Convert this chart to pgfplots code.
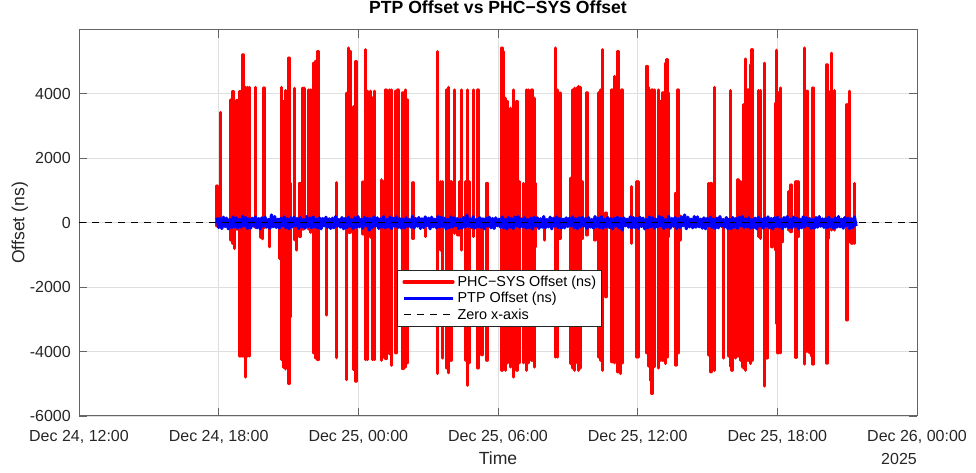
\documentclass[border=0pt]{standalone}
\usepackage{fontspec}
\setmainfont{Liberation Sans}
\usepackage{pgfplots}
\pgfplotsset{compat=1.18}
\usepackage{pgfplotstable}
\definecolor{axgray}{RGB}{38,38,38}
\definecolor{axline}{RGB}{100,100,100}
\definecolor{gridgray}{RGB}{223,223,223}

\pgfplotstableread[row sep=\\]{
y\\
160\\ -150\\ 130\\ -180\\ 170\\ -120\\ 140\\ -190\\ 100\\ -160\\ 180\\ -130\\ 150\\ -170\\ 110\\ -140\\ 190\\ -100\\ 160\\ -180\\
120\\ -170\\ 140\\ -110\\ 180\\ -160\\ 130\\ -190\\ 150\\ -120\\ 170\\ -140\\ 100\\ -180\\ 240\\ -130\\ 190\\ -150\\ 110\\ -170\\
140\\ -100\\ 180\\ -160\\ 120\\ -190\\ 150\\ -130\\ 170\\ -110\\ 130\\ -180\\ 160\\ -140\\ 100\\ -170\\ 190\\ -120\\ 140\\ -160\\
180\\ -130\\ 110\\ -170\\ 150\\ -190\\ 130\\ -100\\ 170\\ -150\\ 120\\ -180\\ 140\\ -160\\ 190\\ -110\\ 100\\ -140\\ 160\\ -190\\
130\\ -160\\ 170\\ -120\\ 100\\ -180\\ 150\\ -140\\ 190\\ -130\\ 110\\ -170\\ 160\\ -100\\ 140\\ -230\\ 120\\ -150\\ 180\\ -110\\
150\\ -180\\ 120\\ -140\\ 190\\ -160\\ 100\\ -130\\ 170\\ -190\\ 140\\ -110\\ 180\\ -150\\ 130\\ -170\\ 110\\ -160\\ 150\\ -120\\
100\\ -140\\ 190\\ -170\\ 130\\ -110\\ 160\\ -180\\ 120\\ -150\\ 180\\ -100\\ 140\\ -190\\ 170\\ -130\\ 110\\ -160\\ 190\\ -140\\
170\\ -120\\ 140\\ -190\\ 110\\ -160\\ 180\\ -130\\ 150\\ -100\\ 130\\ -180\\ 100\\ -170\\ 160\\ -140\\ 230\\ -110\\ 120\\ -150\\
190\\ -170\\ 100\\ -130\\ 160\\ -150\\ 120\\ -190\\ 140\\ -110\\ 170\\ -160\\ 130\\ -180\\ 150\\ -100\\ 110\\ -140\\ 180\\ -170\\
110\\ -190\\ 160\\ -140\\ 130\\ -180\\ 170\\ -100\\ 190\\ -150\\ 120\\ -130\\ 150\\ -170\\ 100\\ -160\\ 140\\ -190\\ 170\\ -110\\
150\\ -180\\ 120\\ -140\\ 190\\ -160\\ 100\\ -130\\ 170\\ -190\\ 140\\ -110\\ 180\\ -150\\ 130\\ -170\\ 110\\ -160\\ 150\\ -120\\
140\\ -100\\ 180\\ -160\\ 120\\ -190\\ 150\\ -130\\ 170\\ -110\\ 130\\ -180\\ 160\\ -140\\ 100\\ -170\\ 190\\ -120\\ 140\\ -160\\
190\\ -170\\ 100\\ -130\\ 160\\ -150\\ 120\\ -190\\ 140\\ -110\\ 170\\ -160\\ 130\\ -230\\ 150\\ -100\\ 110\\ -140\\ 180\\ -170\\
160\\ -150\\ 130\\ -180\\ 170\\ -120\\ 140\\ -190\\ 100\\ -160\\ 180\\ -130\\ 150\\ -170\\ 110\\ -140\\ 190\\ -100\\ 160\\ -180\\
100\\ -140\\ 190\\ -170\\ 130\\ -110\\ 160\\ -180\\ 120\\ -150\\ 180\\ -100\\ 240\\ -190\\ 170\\ -130\\ 110\\ -160\\ 190\\ -140\\
180\\ -130\\ 110\\ -170\\ 150\\ -190\\ 130\\ -100\\ 170\\ -150\\ 120\\ -180\\ 140\\ -160\\ 190\\ -110\\ 100\\ -140\\ 160\\ -190\\
110\\ -190\\ 160\\ -140\\ 130\\ -180\\ 170\\ -100\\ 190\\ -150\\ 120\\ -130\\ 150\\ -170\\ 100\\ -160\\ 140\\ -190\\ 170\\ -110\\
120\\ -170\\ 140\\ -110\\ 180\\ -160\\ 130\\ -190\\ 150\\ -120\\ 170\\ -140\\ 100\\ -180\\ 160\\ -130\\ 190\\ -150\\ 110\\ -170\\
170\\ -120\\ 140\\ -190\\ 110\\ -160\\ 180\\ -130\\ 150\\ -100\\ 130\\ -180\\ 100\\ -170\\ 160\\ -140\\ 190\\ -110\\ 120\\ -150\\
130\\ -160\\ 170\\ -120\\ 100\\ -180\\ 150\\ -140\\ 190\\ -130\\ 110\\ -170\\ 160\\ -100\\ 140\\ -190\\ 120\\ -150\\ 180\\ -110\\
}\ptpdata

\begin{document}
\begin{tikzpicture}
\path[use as bounding box] (0,0) rectangle (976pt,473pt);
\begin{axis}[
  name=ax,
  at={(79pt,57pt)}, anchor=south west,
  scale only axis, width=838pt, height=386pt,
  xmin=0, xmax=36, ymin=-6000, ymax=5980,
  xtick={0,6,12,18,24,30,36},
  xticklabels={{Dec 24, 12:00},{Dec 24, 18:00},{Dec 25, 00:00},{Dec 25, 06:00},{Dec 25, 12:00},{Dec 25, 18:00},{Dec 26, 00:00}},
  ytick={-6000,-4000,-2000,0,2000,4000},
  yticklabels={-6000,-4000,-2000,0,2000,4000},
  tick align=inside, major tick length=8.4pt,
  every tick/.style={axline, line width=0.9pt},
  axis line style={axline, line width=1pt},
  grid=major, grid style={gridgray, line width=0.9pt},
  tick label style={font=\fontsize{16}{19}\selectfont, text=axgray},
  xticklabel style={anchor=base, inner sep=0pt, yshift=-25.5pt},
  yticklabel style={anchor=east, inner sep=0pt, xshift=-8pt},
  title={PTP Offset vs PHC−SYS Offset},
  title style={at={(axis description cs:0.5,1)}, anchor=base, inner sep=0pt, yshift=10.5pt, font=\bfseries\fontsize{17.6}{20}\selectfont, text=black},
  xlabel={Time},
  xlabel style={at={(axis description cs:0.5,0)}, anchor=base, inner sep=0pt, yshift=-48.5pt, font=\fontsize{17.6}{20}\selectfont, text=axgray},
  ylabel={Offset (ns)},
  ylabel style={at={(axis description cs:-0.0653,0.5)}, anchor=base, inner sep=0pt, rotate=0, font=\fontsize{17.6}{20}\selectfont, text=axgray},
  legend image code/.code={\draw[#1] (0pt,0pt) -- (49pt,0pt);},
  legend cell align=left,
  legend style={at={(axis description cs:0.3795,0.378)}, anchor=north west,
    draw=axgray, line width=0.8pt, fill=white,
    font=\fontsize{14.4}{17}\selectfont, text=black,
    nodes={inner sep=0pt}, inner xsep=5pt, inner ysep=5.5pt,
    row sep=4.5pt, column sep=3pt},
]
\addplot[red, line width=3.2pt, line join=round, line cap=round] coordinates {
(5.928,0)(5.928,1140)(5.928,-100)(5.928,0)
(6.070,0)(6.070,3420)(6.070,-50)(6.070,0)
(6.500,0)(6.500,3810)(6.500,-540)(6.500,0)
(6.616,0)(6.616,4070)(6.616,-640)(6.616,0)
(6.689,0)(6.689,1330)(6.689,-800)(6.689,0)
(6.788,0)(6.788,3790)(6.788,-200)(6.788,0)
(6.916,0)(6.916,4070)(6.916,-4140)(6.916,0)
(7.045,0)(7.045,5210)(7.045,-4140)(7.045,0)
(7.144,0)(7.144,4200)(7.144,-4790)(7.144,0)
(7.230,0)(7.230,4200)(7.230,-4140)(7.230,0)
(7.333,0)(7.333,4200)(7.333,-4140)(7.333,0)
(7.574,0)(7.574,4200)(7.574,-150)(7.574,0)
(7.819,0)(7.819,100)(7.819,-450)(7.819,0)
(7.892,0)(7.892,100)(7.892,-500)(7.892,0)
(7.947,0)(7.947,4180)(7.947,-150)(7.947,0)
(8.175,0)(8.175,100)(8.175,-750)(8.175,0)
(8.605,0)(8.605,100)(8.605,-1110)(8.605,0)
(8.691,0)(8.691,4200)(8.691,-4250)(8.691,0)
(8.794,0)(8.794,3760)(8.794,-4490)(8.794,0)
(8.862,0)(8.862,4100)(8.862,-4540)(8.862,0)
(8.948,0)(8.948,4100)(8.948,-4490)(8.948,0)
(9.021,0)(9.021,5110)(9.021,-4990)(9.021,0)
(9.094,0)(9.094,1220)(9.094,-2920)(9.094,0)
(9.249,0)(9.249,4170)(9.249,-530)(9.249,0)
(9.335,0)(9.335,100)(9.335,-850)(9.335,0)
(9.494,0)(9.494,1220)(9.494,-430)(9.494,0)
(9.623,0)(9.623,4170)(9.623,-200)(9.623,0)
(9.696,0)(9.696,4170)(9.696,-150)(9.696,0)
(9.868,0)(9.868,4120)(9.868,-200)(9.868,0)
(9.954,0)(9.954,4120)(9.954,-300)(9.954,0)
(10.022,0)(10.022,4120)(10.022,-300)(10.022,0)
(10.095,0)(10.095,4950)(10.095,-4040)(10.095,0)
(10.168,0)(10.168,5010)(10.168,-4200)(10.168,0)
(10.267,0)(10.267,5310)(10.267,-4250)(10.267,0)
(10.624,0)(10.624,100)(10.624,-2870)(10.624,0)
(11.053,0)(11.053,1240)(11.053,-4190)(11.053,0)
(11.500,0)(11.500,4020)(11.500,-4870)(11.500,0)
(11.569,0)(11.569,5420)(11.569,-300)(11.569,0)
(11.642,0)(11.642,5310)(11.642,-300)(11.642,0)
(11.801,0)(11.801,3600)(11.801,-4560)(11.801,0)
(11.900,0)(11.900,5000)(11.900,-4920)(11.900,0)
(12.200,0)(12.200,1260)(12.200,-350)(12.200,0)
(12.299,0)(12.299,5370)(12.299,-4250)(12.299,0)
(12.385,0)(12.385,4080)(12.385,-4250)(12.385,0)
(12.514,0)(12.514,4080)(12.514,-450)(12.514,0)
(12.617,0)(12.617,3870)(12.617,-4250)(12.617,0)
(12.703,0)(12.703,4080)(12.703,-4250)(12.703,0)
(12.987,0)(12.987,1330)(12.987,-4270)(12.987,0)
(13.090,0)(13.090,1270)(13.090,-4170)(13.090,0)
(13.188,0)(13.188,4120)(13.188,-4220)(13.188,0)
(13.274,0)(13.274,1270)(13.274,-430)(13.274,0)
(13.347,0)(13.347,4120)(13.347,-4070)(13.347,0)
(13.416,0)(13.416,4120)(13.416,-4430)(13.416,0)
(13.618,0)(13.618,4080)(13.618,-4040)(13.618,0)
(13.704,0)(13.704,4120)(13.704,-120)(13.704,0)
(13.919,0)(13.919,4030)(13.919,-4530)(13.919,0)
(14.018,0)(14.018,4120)(14.018,-4480)(14.018,0)
(14.091,0)(14.091,3810)(14.091,-4350)(14.091,0)
(14.348,0)(14.348,1240)(14.348,-490)(14.348,0)
(14.877,0)(14.877,100)(14.877,-430)(14.877,0)
(15.409,0)(15.409,5310)(15.409,-4680)(15.409,0)
(15.521,0)(15.521,1270)(15.521,-850)(15.521,0)
(15.624,0)(15.624,1270)(15.624,-4200)(15.624,0)
(15.809,0)(15.809,4120)(15.809,-4510)(15.809,0)
(15.882,0)(15.882,4200)(15.882,-4660)(15.882,0)
(15.981,0)(15.981,1270)(15.981,-4270)(15.981,0)
(16.123,0)(16.123,4120)(16.123,-330)(16.123,0)
(16.281,0)(16.281,100)(16.281,-380)(16.281,0)
(16.337,0)(16.337,1270)(16.337,-380)(16.337,0)
(16.423,0)(16.423,4120)(16.423,-850)(16.423,0)
(16.595,0)(16.595,1270)(16.595,-4270)(16.595,0)
(16.698,0)(16.698,4120)(16.698,-5050)(16.698,0)
(16.767,0)(16.767,1270)(16.767,-4350)(16.767,0)
(16.956,0)(16.956,4120)(16.956,-430)(16.956,0)
(17.141,0)(17.141,4120)(17.141,-4510)(17.141,0)
(17.312,0)(17.312,100)(17.312,-4100)(17.312,0)
(17.527,0)(17.527,1220)(17.527,-4270)(17.527,0)
(18.172,0)(18.172,5420)(18.172,-4580)(18.172,0)
(18.244,0)(18.244,5310)(18.244,-4270)(18.244,0)
(18.314,0)(18.314,3860)(18.314,-4580)(18.314,0)
(18.386,0)(18.386,3760)(18.386,-4350)(18.386,0)
(18.528,0)(18.528,3550)(18.528,-4480)(18.528,0)
(18.674,0)(18.674,4120)(18.674,-4790)(18.674,0)
(18.816,0)(18.816,3760)(18.816,-4580)(18.816,0)
(18.932,0)(18.932,1270)(18.932,-4350)(18.932,0)
(19.103,0)(19.103,1220)(19.103,-4350)(19.103,0)
(19.215,0)(19.215,4120)(19.215,-4580)(19.215,0)
(19.318,0)(19.318,4120)(19.318,-4350)(19.318,0)
(19.460,0)(19.460,4120)(19.460,-4270)(19.460,0)
(19.576,0)(19.576,3860)(19.576,-4480)(19.576,0)
(19.602,0)(19.602,1220)(19.602,-750)(19.602,0)
(20.006,0)(20.006,100)(20.006,-540)(20.006,0)
(20.462,0)(20.462,5420)(20.462,-4170)(20.462,0)
(20.547,0)(20.547,4120)(20.547,-4170)(20.547,0)
(20.663,0)(20.663,4020)(20.663,-490)(20.663,0)
(21.106,0)(21.106,1380)(21.106,-4370)(21.106,0)
(21.209,0)(21.209,4120)(21.209,-4510)(21.209,0)
(21.295,0)(21.295,4170)(21.295,-4580)(21.295,0)
(21.381,0)(21.381,4170)(21.381,-4330)(21.381,0)
(21.467,0)(21.467,4230)(21.467,-4580)(21.467,0)
(21.535,0)(21.535,4200)(21.535,-4510)(21.535,0)
(21.608,0)(21.608,1270)(21.608,-490)(21.608,0)
(21.823,0)(21.823,4030)(21.823,-380)(21.823,0)
(22.167,0)(22.167,100)(22.167,-540)(22.167,0)
(22.326,0)(22.326,4030)(22.326,-4170)(22.326,0)
(22.412,0)(22.412,4120)(22.412,-4270)(22.412,0)
(22.498,0)(22.498,5370)(22.498,-4580)(22.498,0)
(22.639,0)(22.639,300)(22.639,-2300)(22.639,0)
(22.897,0)(22.897,4120)(22.897,-4320)(22.897,0)
(22.996,0)(22.996,4540)(22.996,-4350)(22.996,0)
(23.082,0)(23.082,4030)(23.082,-4270)(23.082,0)
(23.155,0)(23.155,5310)(23.155,-4630)(23.155,0)
(23.254,0)(23.254,4030)(23.254,-4680)(23.254,0)
(23.327,0)(23.327,4120)(23.327,-4350)(23.327,0)
(23.726,0)(23.726,1120)(23.726,-640)(23.726,0)
(23.971,0)(23.971,1270)(23.971,-4170)(23.971,0)
(24.044,0)(24.044,1270)(24.044,-4170)(24.044,0)
(24.401,0)(24.401,4850)(24.401,-4040)(24.401,0)
(24.474,0)(24.474,4200)(24.474,-4450)(24.474,0)
(24.543,0)(24.543,1270)(24.543,-4890)(24.543,0)
(24.616,0)(24.616,4120)(24.616,-5300)(24.616,0)
(24.731,0)(24.731,4120)(24.731,-4470)(24.731,0)
(24.903,0)(24.903,4120)(24.903,-4510)(24.903,0)
(24.972,0)(24.972,3760)(24.972,-4270)(24.972,0)
(25.088,0)(25.088,4030)(25.088,-4270)(25.088,0)
(25.187,0)(25.187,4950)(25.187,-4370)(25.187,0)
(25.260,0)(25.260,5060)(25.260,-4170)(25.260,0)
(25.333,0)(25.333,4030)(25.333,-440)(25.333,0)
(25.647,0)(25.647,910)(25.647,-4420)(25.647,0)
(25.733,0)(25.733,4120)(25.733,-4040)(25.733,0)
(25.831,0)(25.831,200)(25.831,-540)(25.831,0)
(27.051,0)(27.051,1220)(27.051,-4110)(27.051,0)
(27.150,0)(27.150,1220)(27.150,-4630)(27.150,0)
(27.223,0)(27.223,1120)(27.223,-4580)(27.223,0)
(27.309,0)(27.309,4200)(27.309,-4580)(27.309,0)
(27.695,0)(27.695,100)(27.695,-4200)(27.695,0)
(27.910,0)(27.910,100)(27.910,-4140)(27.910,0)
(27.979,0)(27.979,4100)(27.979,-4460)(27.979,0)
(28.052,0)(28.052,100)(28.052,-4580)(28.052,0)
(28.194,0)(28.194,100)(28.194,-4200)(28.194,0)
(28.310,0)(28.310,1330)(28.310,-4140)(28.310,0)
(28.409,0)(28.409,1270)(28.409,-4270)(28.409,0)
(28.512,0)(28.512,1270)(28.512,-4480)(28.512,0)
(28.555,0)(28.555,3660)(28.555,-4510)(28.555,0)
(28.624,0)(28.624,5080)(28.624,-4580)(28.624,0)
(28.740,0)(28.740,4120)(28.740,-4270)(28.740,0)
(28.839,0)(28.839,4900)(28.839,-4370)(28.839,0)
(28.912,0)(28.912,5370)(28.912,-4270)(28.912,0)
(29.199,0)(29.199,4100)(29.199,-430)(29.199,0)
(29.268,0)(29.268,4100)(29.268,-490)(29.268,0)
(29.457,0)(29.457,4950)(29.457,-5070)(29.457,0)
(29.556,0)(29.556,100)(29.556,-4200)(29.556,0)
(29.771,0)(29.771,100)(29.771,-750)(29.771,0)
(29.912,0)(29.912,3710)(29.912,-850)(29.912,0)
(29.956,0)(29.956,5350)(29.956,-3130)(29.956,0)
(30.028,0)(30.028,4030)(30.028,-4040)(30.028,0)
(30.127,0)(30.127,4180)(30.127,-4040)(30.127,0)
(30.200,0)(30.200,100)(30.200,-590)(30.200,0)
(30.488,0)(30.488,960)(30.488,-230)(30.488,0)
(30.587,0)(30.587,1170)(30.587,-280)(30.587,0)
(30.802,0)(30.802,1270)(30.802,-4180)(30.802,0)
(30.888,0)(30.888,1270)(30.888,-430)(30.888,0)
(31.175,0)(31.175,5420)(31.175,-4390)(31.175,0)
(31.274,0)(31.274,4080)(31.274,-3990)(31.274,0)
(31.373,0)(31.373,100)(31.373,-4040)(31.373,0)
(31.459,0)(31.459,100)(31.459,-4140)(31.459,0)
(31.532,0)(31.532,4180)(31.532,-4390)(31.532,0)
(32.133,0)(32.133,4900)(32.133,-4360)(32.133,0)
(32.206,0)(32.206,4080)(32.206,-490)(32.206,0)
(32.318,0)(32.318,5260)(32.318,-230)(32.318,0)
(32.464,0)(32.464,4100)(32.464,-230)(32.464,0)
(32.992,0)(32.992,3660)(32.992,-3020)(32.992,0)
(33.091,0)(33.091,4080)(33.091,-590)(33.091,0)
(33.208,0)(33.208,100)(33.208,-640)(33.208,0)
(33.306,0)(33.306,1220)(33.306,-640)(33.306,0)
(33.380,0)
};
\addlegendentry{PHC−SYS Offset (ns)}
\addplot[blue, line width=3.2pt, line join=round] table[x expr={5.93+\coordindex*0.0688}, y=y] {\ptpdata};
\addlegendentry{PTP Offset (ns)}
\addplot[black, line width=0.9pt, dash pattern=on 7pt off 6pt] coordinates {(0,0) (36,0)};
\addlegendentry{Zero x-axis}
\end{axis}
\node[anchor=base east, inner sep=0pt, font=\fontsize{16}{19}\selectfont, text=axgray, yshift=-48.5pt] at (ax.south east) {2025};
\end{tikzpicture}
\end{document}
